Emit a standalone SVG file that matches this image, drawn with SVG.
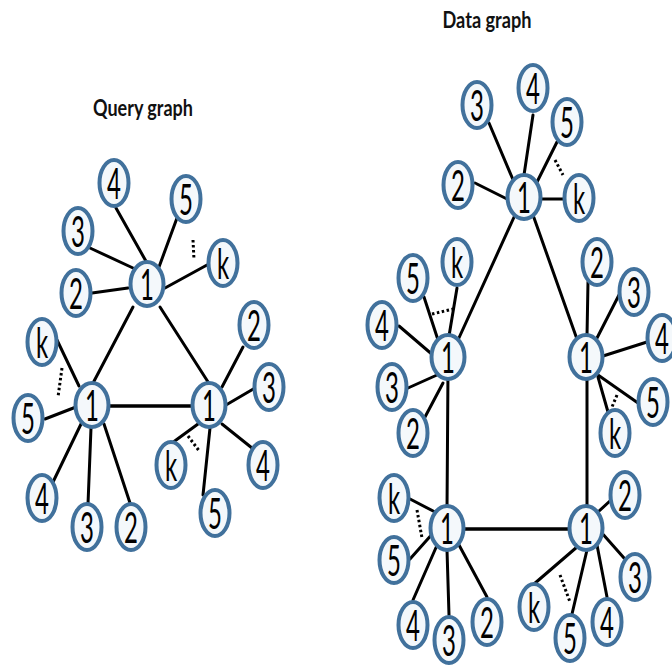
<svg xmlns="http://www.w3.org/2000/svg" width="672" height="666" viewBox="0 0 672 666">
<style>
.e{stroke:#000;stroke-width:3;stroke-linecap:round}
.t{stroke-width:3.6}
.d{stroke:#000;stroke-width:3;stroke-dasharray:2.5 2.5}
.n use{fill:#f4f8fb;stroke:#41719c;stroke-width:4}
.n text{font-family:Lato,"Open Sans",sans-serif;font-size:24px;text-anchor:middle;fill:#000}
.title{font-family:Lato,"Open Sans",sans-serif;font-size:16px;font-weight:bold;fill:#111}
</style>
<defs>
<ellipse id="leaf" rx="14.5" ry="23"/>
<ellipse id="hub" rx="16.5" ry="22"/>
</defs>
<g id="titles">
<text class="title" transform="translate(143,116) scale(1,1.45)" text-anchor="middle" textLength="100" lengthAdjust="spacingAndGlyphs">Query graph</text>
<text class="title" transform="translate(487,28) scale(1,1.45)" text-anchor="middle" textLength="89" lengthAdjust="spacingAndGlyphs">Data graph</text>
</g>
<g id="connectors">
<!-- query top hub -->
<line class="e" x1="116" y1="208" x2="147" y2="263"/>
<line class="e" x1="177" y1="218" x2="159" y2="267"/>
<line class="e" x1="90" y1="248" x2="133" y2="268"/>
<line class="e" x1="207" y1="265" x2="165" y2="288"/>
<line class="e" x1="92" y1="293" x2="128" y2="288"/>
<line class="d" x1="193" y1="240" x2="194" y2="260"/>
<!-- query triangle -->
<line class="e" x1="133" y1="307" x2="92" y2="385"/>
<line class="e" x1="160" y1="307" x2="210" y2="385"/>
<line class="e t" x1="105" y1="406" x2="195" y2="406"/>
<!-- query left hub -->
<line class="e" x1="57" y1="340" x2="79" y2="386"/>
<line class="e" x1="45" y1="419" x2="76" y2="407"/>
<line class="e" x1="53" y1="482" x2="82" y2="422"/>
<line class="e" x1="88" y1="504" x2="91" y2="428"/>
<line class="e" x1="130" y1="503" x2="104" y2="424"/>
<line class="d" x1="62" y1="368" x2="58" y2="397"/>
<!-- query right hub -->
<line class="e" x1="243" y1="347" x2="222" y2="387"/>
<line class="e" x1="255" y1="388" x2="226" y2="405"/>
<line class="e" x1="252" y1="448" x2="222" y2="424"/>
<line class="e" x1="203" y1="495" x2="210" y2="428"/>
<line class="e" x1="172" y1="443" x2="198" y2="424"/>
<line class="d" x1="188" y1="436" x2="200" y2="452"/>
<!-- data top hub -->
<line class="e" x1="489" y1="123" x2="514" y2="182"/>
<line class="e" x1="533" y1="115" x2="524" y2="175"/>
<line class="e" x1="557" y1="142" x2="537" y2="182"/>
<line class="e" x1="475" y1="183" x2="509" y2="200"/>
<line class="e" x1="540" y1="199" x2="564" y2="199"/>
<line class="d" x1="555" y1="160" x2="563" y2="175"/>
<!-- data frame -->
<line class="e" x1="515" y1="215" x2="458" y2="340"/>
<line class="e" x1="533" y1="215" x2="578" y2="342"/>
<line class="e" x1="448" y1="370" x2="447" y2="510"/>
<line class="e" x1="587" y1="370" x2="587" y2="510"/>
<line class="e t" x1="460" y1="529" x2="573" y2="529"/>
<!-- data left hub -->
<line class="e" x1="424" y1="297" x2="438" y2="340"/>
<line class="e" x1="457" y1="288" x2="449" y2="336"/>
<line class="d" x1="432" y1="314" x2="453" y2="309"/>
<line class="e" x1="399" y1="326" x2="434" y2="356"/>
<line class="e" x1="408" y1="388" x2="437" y2="375"/>
<line class="e" x1="425" y1="417" x2="443" y2="383"/>
<!-- data right hub -->
<line class="e" x1="588" y1="282" x2="587" y2="336"/>
<line class="e" x1="620" y1="293" x2="597" y2="338"/>
<line class="e" x1="647" y1="342" x2="603" y2="356"/>
<line class="e" x1="638" y1="403" x2="598" y2="375"/>
<line class="e" x1="608" y1="412" x2="598" y2="377"/>
<line class="d" x1="617" y1="395" x2="612" y2="407"/>
<!-- data bottom-left hub -->
<line class="e" x1="410" y1="499" x2="435" y2="512"/>
<line class="e" x1="410" y1="559" x2="434" y2="532"/>
<line class="d" x1="417" y1="510" x2="422" y2="538"/>
<line class="e" x1="413" y1="600" x2="438" y2="543"/>
<line class="e" x1="449" y1="615" x2="447" y2="550"/>
<line class="e" x1="487" y1="597" x2="459" y2="545"/>
<!-- data bottom-right hub -->
<line class="e" x1="611" y1="500" x2="598" y2="512"/>
<line class="e" x1="624" y1="558" x2="601" y2="532"/>
<line class="e" x1="607" y1="597" x2="597" y2="545"/>
<line class="e" x1="572" y1="614" x2="587" y2="550"/>
<line class="e" x1="534" y1="584" x2="577" y2="547"/>
<line class="d" x1="560" y1="575" x2="570" y2="602"/>
</g>
<!-- query graph nodes -->
<g id="q-top-1" class="n" transform="translate(147,284)"><use href="#hub"/><text transform="scale(1,1.75)" y="9">1</text></g>
<g id="q-top-4" class="n" transform="translate(114,183)"><use href="#leaf"/><text transform="scale(1,1.75)" y="9">4</text></g>
<g id="q-top-5" class="n" transform="translate(186,199)"><use href="#leaf"/><text transform="scale(1,1.75)" y="9">5</text></g>
<g id="q-top-3" class="n" transform="translate(78,231)"><use href="#leaf"/><text transform="scale(1,1.75)" y="9">3</text></g>
<g id="q-top-k" class="n" transform="translate(223,263)"><use href="#leaf"/><text transform="scale(1,1.75)" y="9">k</text></g>
<g id="q-top-2" class="n" transform="translate(76,293)"><use href="#leaf"/><text transform="scale(1,1.75)" y="9">2</text></g>
<g id="q-left-1" class="n" transform="translate(92,405)"><use href="#hub"/><text transform="scale(1,1.75)" y="9">1</text></g>
<g id="q-left-k" class="n" transform="translate(42,342)"><use href="#leaf"/><text transform="scale(1,1.75)" y="9">k</text></g>
<g id="q-left-5" class="n" transform="translate(28,418)"><use href="#leaf"/><text transform="scale(1,1.75)" y="9">5</text></g>
<g id="q-left-4" class="n" transform="translate(42,498)"><use href="#leaf"/><text transform="scale(1,1.75)" y="9">4</text></g>
<g id="q-left-3" class="n" transform="translate(87,527)"><use href="#leaf"/><text transform="scale(1,1.75)" y="9">3</text></g>
<g id="q-left-2" class="n" transform="translate(131,527)"><use href="#leaf"/><text transform="scale(1,1.75)" y="9">2</text></g>
<g id="q-right-1" class="n" transform="translate(209,405)"><use href="#hub"/><text transform="scale(1,1.75)" y="9">1</text></g>
<g id="q-right-2" class="n" transform="translate(254,325)"><use href="#leaf"/><text transform="scale(1,1.75)" y="9">2</text></g>
<g id="q-right-3" class="n" transform="translate(269,387)"><use href="#leaf"/><text transform="scale(1,1.75)" y="9">3</text></g>
<g id="q-right-4" class="n" transform="translate(263,465)"><use href="#leaf"/><text transform="scale(1,1.75)" y="9">4</text></g>
<g id="q-right-5" class="n" transform="translate(215,513)"><use href="#leaf"/><text transform="scale(1,1.75)" y="9">5</text></g>
<g id="q-right-k" class="n" transform="translate(171,465)"><use href="#leaf"/><text transform="scale(1,1.75)" y="9">k</text></g>
<!-- data graph nodes -->
<g id="d-top-1" class="n" transform="translate(524,197)"><use href="#hub"/><text transform="scale(1,1.75)" y="9">1</text></g>
<g id="d-top-3" class="n" transform="translate(477,105)"><use href="#leaf"/><text transform="scale(1,1.75)" y="9">3</text></g>
<g id="d-top-4" class="n" transform="translate(533,88)"><use href="#leaf"/><text transform="scale(1,1.75)" y="9">4</text></g>
<g id="d-top-5" class="n" transform="translate(567,122)"><use href="#leaf"/><text transform="scale(1,1.75)" y="9">5</text></g>
<g id="d-top-2" class="n" transform="translate(458,185)"><use href="#leaf"/><text transform="scale(1,1.75)" y="9">2</text></g>
<g id="d-top-k" class="n" transform="translate(579,198)"><use href="#leaf"/><text transform="scale(1,1.75)" y="9">k</text></g>
<g id="d-left-1" class="n" transform="translate(448,357)"><use href="#hub"/><text transform="scale(1,1.75)" y="9">1</text></g>
<g id="d-left-5" class="n" transform="translate(413,278)"><use href="#leaf"/><text transform="scale(1,1.75)" y="9">5</text></g>
<g id="d-left-k" class="n" transform="translate(457,262)"><use href="#leaf"/><text transform="scale(1,1.75)" y="9">k</text></g>
<g id="d-left-4" class="n" transform="translate(382,325)"><use href="#leaf"/><text transform="scale(1,1.75)" y="9">4</text></g>
<g id="d-left-3" class="n" transform="translate(392,387)"><use href="#leaf"/><text transform="scale(1,1.75)" y="9">3</text></g>
<g id="d-left-2" class="n" transform="translate(413,433)"><use href="#leaf"/><text transform="scale(1,1.75)" y="9">2</text></g>
<g id="d-right-1" class="n" transform="translate(586,357)"><use href="#hub"/><text transform="scale(1,1.75)" y="9">1</text></g>
<g id="d-right-2" class="n" transform="translate(597,262)"><use href="#leaf"/><text transform="scale(1,1.75)" y="9">2</text></g>
<g id="d-right-3" class="n" transform="translate(634,292)"><use href="#leaf"/><text transform="scale(1,1.75)" y="9">3</text></g>
<g id="d-right-4" class="n" transform="translate(662,338)"><use href="#leaf"/><text transform="scale(1,1.75)" y="9">4</text></g>
<g id="d-right-5" class="n" transform="translate(653,402)"><use href="#leaf"/><text transform="scale(1,1.75)" y="9">5</text></g>
<g id="d-right-k" class="n" transform="translate(615,433)"><use href="#leaf"/><text transform="scale(1,1.75)" y="9">k</text></g>
<g id="d-bl-1" class="n" transform="translate(447,528)"><use href="#hub"/><text transform="scale(1,1.75)" y="9">1</text></g>
<g id="d-bl-k" class="n" transform="translate(394,498)"><use href="#leaf"/><text transform="scale(1,1.75)" y="9">k</text></g>
<g id="d-bl-5" class="n" transform="translate(394,560)"><use href="#leaf"/><text transform="scale(1,1.75)" y="9">5</text></g>
<g id="d-bl-4" class="n" transform="translate(413,625)"><use href="#leaf"/><text transform="scale(1,1.75)" y="9">4</text></g>
<g id="d-bl-3" class="n" transform="translate(449,640)"><use href="#leaf"/><text transform="scale(1,1.75)" y="9">3</text></g>
<g id="d-bl-2" class="n" transform="translate(487,622)"><use href="#leaf"/><text transform="scale(1,1.75)" y="9">2</text></g>
<g id="d-br-1" class="n" transform="translate(586,528)"><use href="#hub"/><text transform="scale(1,1.75)" y="9">1</text></g>
<g id="d-br-2" class="n" transform="translate(625,495)"><use href="#leaf"/><text transform="scale(1,1.75)" y="9">2</text></g>
<g id="d-br-3" class="n" transform="translate(635,577)"><use href="#leaf"/><text transform="scale(1,1.75)" y="9">3</text></g>
<g id="d-br-4" class="n" transform="translate(607,622)"><use href="#leaf"/><text transform="scale(1,1.75)" y="9">4</text></g>
<g id="d-br-5" class="n" transform="translate(570,638)"><use href="#leaf"/><text transform="scale(1,1.75)" y="9">5</text></g>
<g id="d-br-k" class="n" transform="translate(534,607)"><use href="#leaf"/><text transform="scale(1,1.75)" y="9">k</text></g>
</svg>
